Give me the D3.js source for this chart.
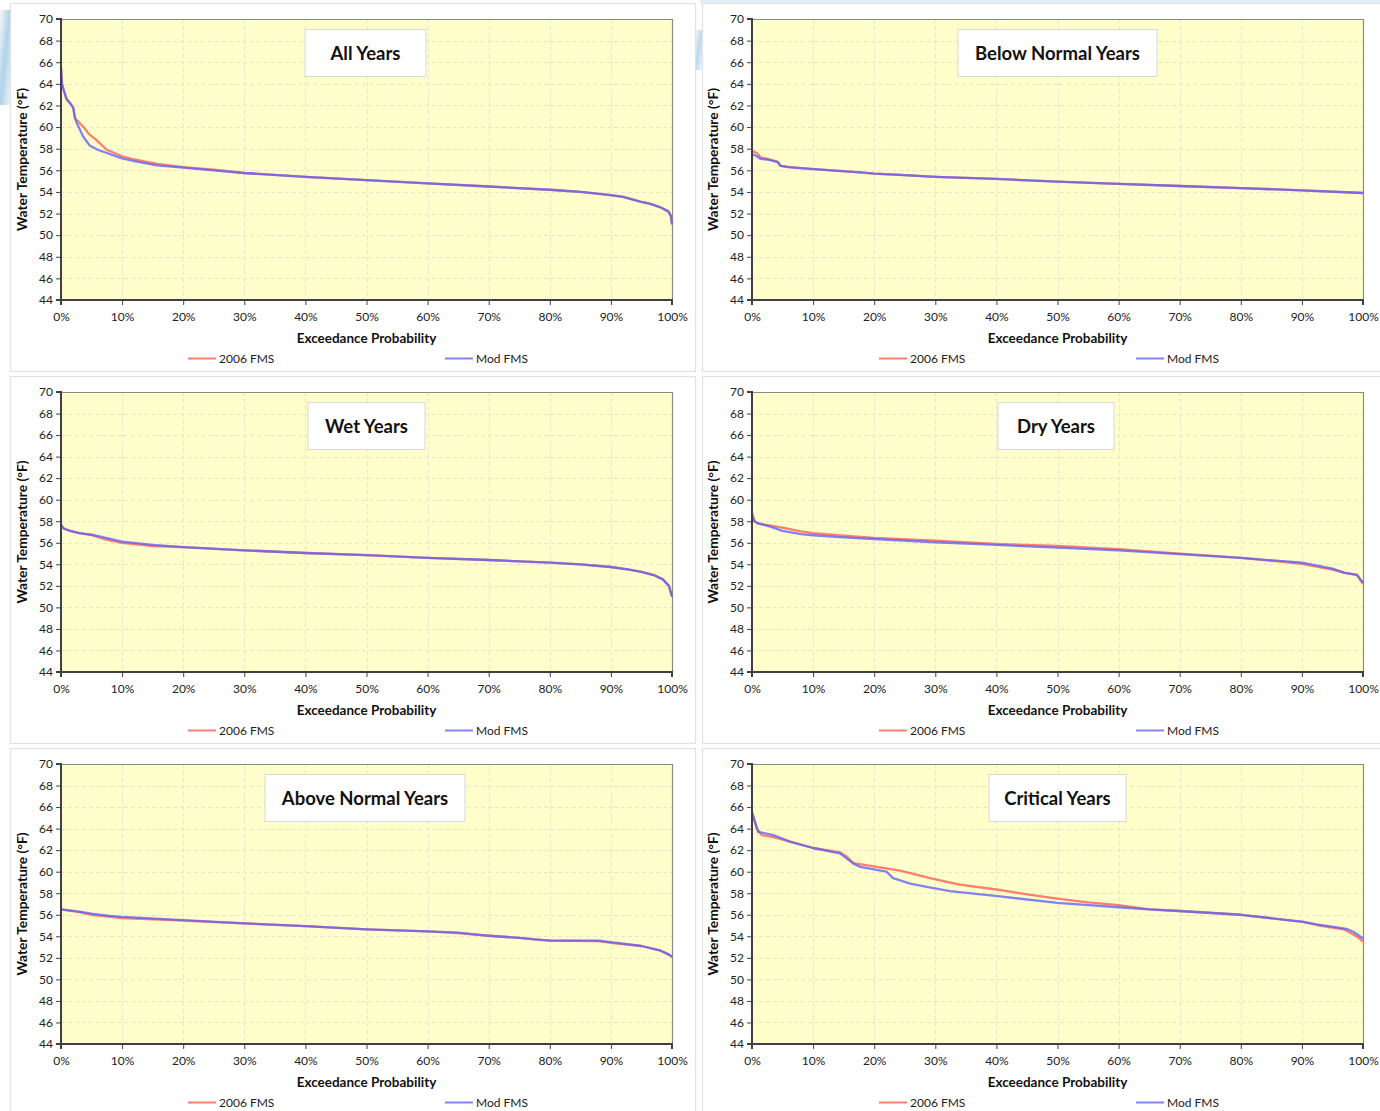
<!DOCTYPE html>
<html><head><meta charset="utf-8">
<script src="https://cdn.jsdelivr.net/npm/d3@7"></script>
<style>
html,body{margin:0;padding:0;background:#fff;}
svg{display:block;font-family:Lato,"Open Sans",sans-serif;}
</style></head>
<body><svg id="c" width="1380" height="1111"></svg>
<script>
// ---------- data ----------
const yTicks = [44,46,48,50,52,54,56,58,60,62,64,66,68,70];
const xTicks = [0,10,20,30,40,50,60,70,80,90,100];
const seriesNames = ["2006 FMS","Mod FMS"];
const panelTitles = ["All Years","Below Normal Years","Wet Years","Dry Years","Above Normal Years","Critical Years"];

const allYears2006 = [[0,65.5],[0.15,64.0],[0.4,63.5],[0.9,62.6],[1.5,62.2],[2.0,61.8],[2.3,60.8],[3.0,60.4],[3.7,60.0],[4.5,59.4],[5.8,58.8],[7.5,57.9],[10,57.3],[12,57.0],[15.7,56.6],[20,56.3],[25,56.05],[30,55.75],[40,55.4],[50,55.1],[60,54.8],[70,54.5],[80,54.2],[85,54.0],[90,53.7],[92,53.55],[94.8,53.1],[96.5,52.9],[98,52.6],[99.4,52.2],[99.8,51.8],[100,51.0]];
const allYearsMod = [[0,65.5],[0.15,64.0],[0.4,63.5],[0.9,62.6],[1.5,62.2],[2.0,61.8],[2.3,60.8],[2.6,60.35],[3.65,59.1],[4.7,58.3],[6,57.9],[7.5,57.6],[10,57.1],[12,56.85],[15.7,56.45],[20,56.25],[25,56.0],[30,55.75],[40,55.4],[50,55.1],[60,54.8],[70,54.5],[80,54.2],[85,54.0],[90,53.7],[92,53.55],[94.8,53.1],[96.5,52.9],[98,52.6],[99.4,52.2],[99.8,51.8],[100,51.0]];

const belowNormal2006 = [[0,57.8],[0.8,57.6],[1.4,57.2],[2.5,57.05],[4.2,56.8],[4.7,56.4],[6,56.3],[9,56.15],[13,56.0],[17.7,55.8],[20,55.7],[25,55.55],[30,55.4],[40,55.2],[50,54.95],[60,54.75],[70,54.55],[80,54.35],[90,54.15],[100,53.9]];
const belowNormalMod = [[0,57.5],[0.8,57.3],[1.4,57.05],[2.5,57.0],[4.2,56.75],[4.7,56.4],[6,56.3],[9,56.15],[13,56.0],[17.7,55.8],[20,55.7],[25,55.55],[30,55.4],[40,55.2],[50,54.95],[60,54.75],[70,54.55],[80,54.35],[90,54.15],[100,53.9]];

const wet2006 = [[0,57.7],[0.5,57.3],[1.5,57.1],[3,56.9],[5,56.7],[7,56.35],[10,56.0],[15,55.7],[20,55.6],[30,55.3],[40,55.05],[50,54.85],[60,54.6],[70,54.4],[80,54.15],[85,54.0],[90,53.75],[93,53.5],[95,53.3],[97,53.0],[98.5,52.6],[99.5,52.0],[100,51.0]];
const wetMod = [[0,57.6],[0.5,57.3],[1.5,57.1],[3,56.9],[5,56.75],[7,56.5],[10,56.1],[15,55.8],[20,55.6],[30,55.3],[40,55.05],[50,54.85],[60,54.6],[70,54.4],[80,54.15],[85,54.0],[90,53.75],[93,53.5],[95,53.3],[97,53.0],[98.5,52.6],[99.5,52.0],[100,51.0]];

const dry2006 = [[0,58.8],[0.4,58.0],[1,57.8],[3,57.6],[5,57.4],[8,57.05],[10,56.9],[15,56.65],[20,56.45],[30,56.2],[40,55.9],[50,55.7],[60,55.4],[70,55.0],[80,54.6],[90,54.05],[95,53.5],[97,53.2],[99,53.0],[99.6,52.5],[100,52.2]];
const dryMod = [[0,58.6],[0.4,58.0],[1,57.8],[3,57.5],[5,57.1],[8,56.8],[10,56.7],[15,56.5],[20,56.35],[30,56.05],[40,55.8],[50,55.55],[60,55.3],[70,54.95],[80,54.6],[90,54.15],[95,53.6],[97,53.2],[99,53.05],[99.6,52.6],[100,52.3]];

const aboveNormal2006 = [[0,56.5],[3,56.25],[5,56.0],[8,55.8],[10,55.7],[20,55.45],[30,55.2],[40,54.95],[50,54.65],[60,54.45],[65,54.3],[70,54.05],[75,53.85],[78,53.7],[80,53.6],[88,53.55],[90,53.4],[95,53.1],[98,52.7],[99.5,52.3],[100,52.1]];
const aboveNormalMod = [[0,56.5],[3,56.3],[5,56.1],[8,55.9],[10,55.8],[20,55.5],[30,55.2],[40,54.95],[50,54.65],[60,54.45],[65,54.35],[70,54.05],[75,53.85],[78,53.7],[80,53.6],[88,53.6],[90,53.45],[95,53.1],[98,52.7],[99.5,52.3],[100,52.1]];

const critical2006 = [[0,65.5],[0.8,64.0],[1.6,63.4],[3.5,63.2],[6.2,62.8],[10,62.2],[14.4,61.8],[15.5,61.4],[16.6,60.8],[19.9,60.5],[24.2,60.1],[26.4,59.8],[29.1,59.4],[34,58.8],[40.6,58.3],[45,57.9],[50,57.5],[55,57.15],[60,56.9],[65,56.5],[70,56.35],[80,56.0],[90.2,55.35],[92.4,55.05],[96.8,54.65],[98,54.3],[99.2,53.9],[100,53.5]];
const criticalMod = [[0,65.5],[1.0,63.7],[3.5,63.4],[6.2,62.8],[10,62.2],[14.4,61.7],[16.6,60.75],[17.7,60.45],[22,60.0],[23.1,59.4],[25.9,58.9],[28.6,58.6],[32.4,58.2],[40.6,57.7],[50,57.1],[60,56.7],[65,56.5],[70,56.35],[80,56.0],[90.2,55.35],[92.4,55.1],[97.3,54.7],[98.5,54.4],[100,53.8]];

const panelSeries = [
  [allYears2006, allYearsMod],
  [belowNormal2006, belowNormalMod],
  [wet2006, wetMod],
  [dry2006, dryMod],
  [aboveNormal2006, aboveNormalMod],
  [critical2006, criticalMod]
];

// ---------- layout ----------
const colX = [{l:61,r:672,cardL:10,cardR:695},{l:752,r:1363,cardL:702,cardR:1390}];
const rowY = [{t:19,b:300,cardT:3,cardB:371},{t:392,b:672,cardT:376,cardB:743},{t:764,b:1044,cardT:748,cardB:1120}];
const titleBoxes = [{cx:365.5,w:121},{cx:1057.5,w:199},{cx:366.5,w:117},{cx:1056,w:116},{cx:365,w:200},{cx:1057.5,w:137}];
const colors = ["rgb(255,105,90)","rgb(95,95,250)"];
const opac = [0.85,0.78];

const svg = d3.select("#c");
const defs = svg.append("defs");
const g1 = defs.append("linearGradient").attr("id","wat").attr("x1","0").attr("y1","0").attr("x2","1").attr("y2","1");
g1.append("stop").attr("offset","0").attr("stop-color","#eef6fb");
g1.append("stop").attr("offset","0.5").attr("stop-color","#7ab4da");
g1.append("stop").attr("offset","1").attr("stop-color","#dcedf6");
// decorative background bits
svg.append("rect").attr("x",0).attr("y",10).attr("width",10).attr("height",95).attr("fill","url(#wat)").attr("opacity",0.6);
svg.append("rect").attr("x",695).attr("y",30).attr("width",7).attr("height",40).attr("fill","url(#wat)").attr("opacity",0.5);
svg.append("rect").attr("x",700).attr("y",0).attr("width",680).attr("height",3).attr("fill","#e3eff6");

panelSeries.forEach((series, i) => {
  const c = colX[i % 2], r = rowY[Math.floor(i / 2)];
  const g = svg.append("g");
  // card
  g.append("rect").attr("x",c.cardL+0.5).attr("y",r.cardT+0.5).attr("width",c.cardR-c.cardL).attr("height",r.cardB-r.cardT)
    .attr("fill","#fff").attr("stroke","#e2e2e2").attr("stroke-width",1.2);
  const x = d3.scaleLinear().domain([0,100]).range([c.l,c.r]);
  const y = d3.scaleLinear().domain([44,70]).range([r.b,r.t]);
  // plot area
  g.append("rect").attr("x",c.l).attr("y",r.t).attr("width",c.r-c.l).attr("height",r.b-r.t).attr("fill","#ffffcc");
  // grid
  g.append("g").selectAll("line").data(yTicks.slice(1,-1)).join("line")
    .attr("x1",c.l).attr("x2",c.r).attr("y1",d=>Math.round(y(d))+0.5).attr("y2",d=>Math.round(y(d))+0.5)
    .attr("stroke","#e6e6c8").attr("stroke-dasharray","4,3").attr("stroke-width",1);
  g.append("g").selectAll("line").data(xTicks.slice(1,-1)).join("line")
    .attr("y1",r.t).attr("y2",r.b).attr("x1",d=>Math.round(x(d))+0.5).attr("x2",d=>Math.round(x(d))+0.5)
    .attr("stroke","#e6e6c8").attr("stroke-dasharray","4,3").attr("stroke-width",1);
  // top/right border
  g.append("path").attr("d",`M${c.l},${r.t+0.5}H${c.r+0.5}V${r.b}`).attr("fill","none").attr("stroke","#8a8a80").attr("stroke-width",1.2);
  // lines
  const line = d3.line().x(d=>x(d[0])).y(d=>y(d[1]));
  series.forEach((s, k) => {
    g.append("path").datum(s).attr("d",line).attr("fill","none")
      .attr("stroke",colors[k]).attr("stroke-opacity",opac[k]).attr("stroke-width",2.3).attr("stroke-linejoin","round");
  });
  // axes
  const ya = d3.axisLeft(y).tickValues(yTicks).tickSize(5).tickFormat(d3.format("d"));
  const yg = g.append("g").attr("transform",`translate(${c.l},0)`).call(ya);
  const xa = d3.axisBottom(x).tickValues(xTicks).tickSize(5).tickFormat(d=>d+"%");
  const xg = g.append("g").attr("transform",`translate(0,${r.b})`).call(xa);
  [yg,xg].forEach(a=>{
    a.select(".domain").attr("stroke","#404040").attr("stroke-width",2);
    a.selectAll(".tick line").attr("stroke","#404040").attr("stroke-width",1);
    a.selectAll(".tick text").attr("fill","#222").attr("font-size",12).attr("font-family","Lato,'Open Sans',sans-serif");
  });
  yg.select(".domain").attr("d",`M-5,${r.b}H0V${r.t}H-5`);
  xg.select(".domain").attr("d",`M${c.l},5V0H${c.r}V5`);
  yg.selectAll(".tick text").attr("x",-8);
  xg.selectAll(".tick text").attr("y",12);
  // axis titles
  g.append("text").attr("x",(c.l+c.r)/2).attr("y",r.b+43).attr("text-anchor","middle")
    .attr("font-size",13.5).attr("font-weight","bold").attr("fill","#111").text("Exceedance Probability");
  g.append("text").attr("transform",`translate(${c.l-34},${(r.t+r.b)/2}) rotate(-90)`).attr("text-anchor","middle")
    .attr("font-size",13.8).attr("font-weight","bold").attr("fill","#111").text("Water Temperature (°F)");
  // legend
  seriesNames.forEach((n,k)=>{
    const lx = c.l + (k===0?127:384);
    g.append("line").attr("x1",lx).attr("x2",lx+28).attr("y1",r.b+58.5).attr("y2",r.b+58.5)
      .attr("stroke",colors[k]).attr("stroke-opacity",opac[k]).attr("stroke-width",2);
    g.append("text").attr("x",lx+31).attr("y",r.b+63).attr("font-size",12).attr("fill","#222").text(n);
  });
  // title box
  const tb = titleBoxes[i];
  g.append("rect").attr("x",tb.cx - tb.w/2).attr("y",r.t+10.5).attr("width",tb.w).attr("height",47)
    .attr("fill","#fff").attr("stroke","#d8d8d8").attr("stroke-width",1);
  g.append("text").attr("x",tb.cx).attr("y",r.t+41).attr("text-anchor","middle")
    .attr("font-size",18.5).attr("font-weight","bold").attr("fill","#111").text(panelTitles[i]);
});
</script></body></html>
